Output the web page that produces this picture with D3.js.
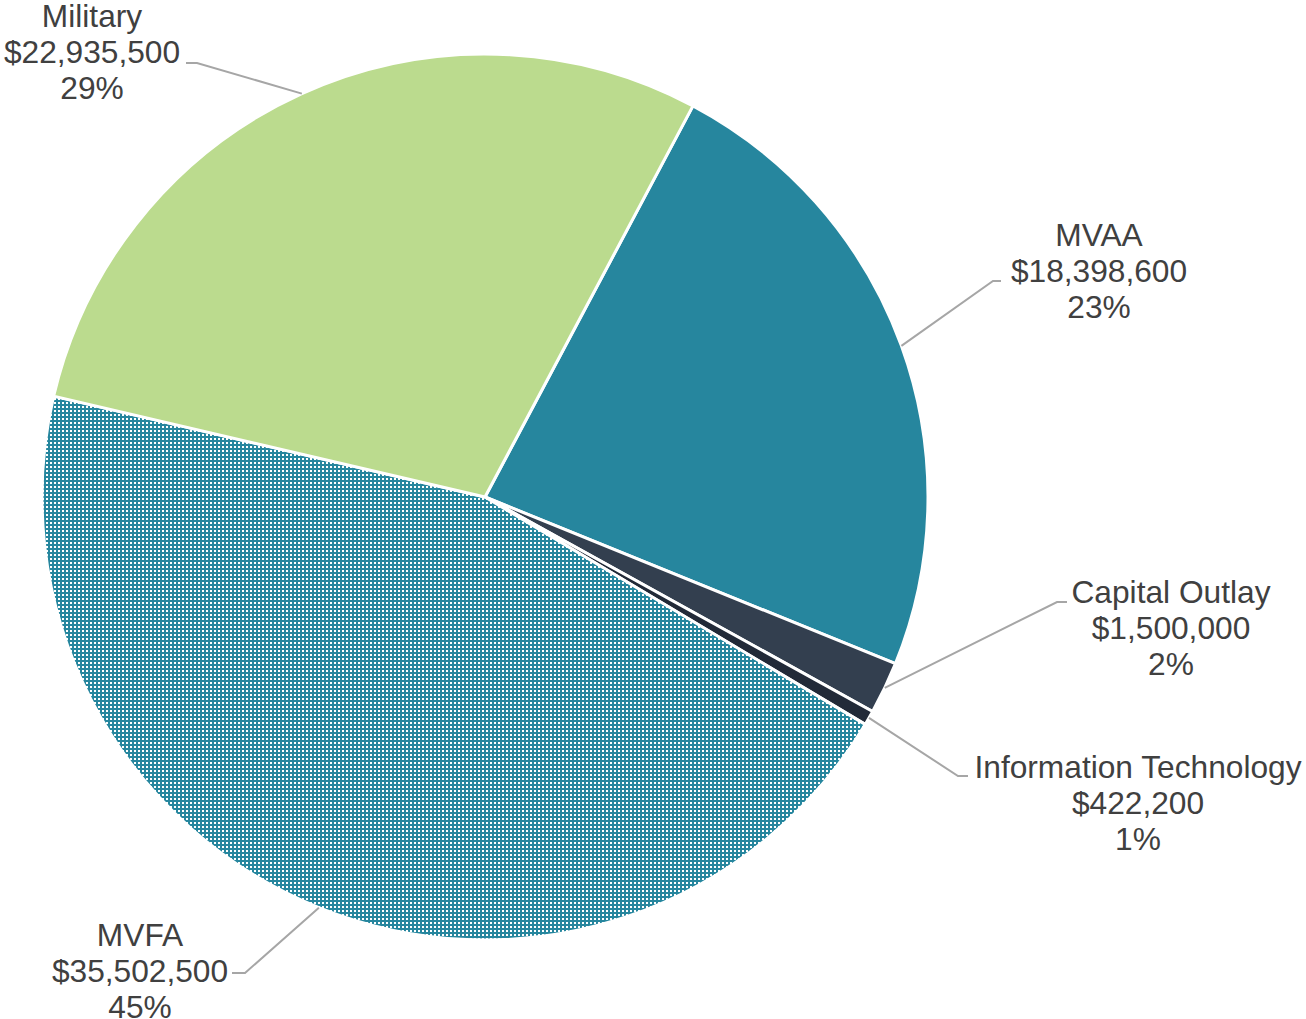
<!DOCTYPE html>
<html>
<head>
<meta charset="utf-8">
<script src="https://cdn.jsdelivr.net/npm/d3@7"></script>
<style>
  body { margin: 0; background: #fff; }
  svg text { font-family: "Liberation Sans", Arial, sans-serif; fill: #404040; }
</style>
</head>
<body>
<div id="chart"></div>
<script>
// budget categories, in the order the slices go round (clockwise from the first cut)
var categories = ["MVAA", "Capital Outlay", "Information Technology", "MVFA", "Military"];
var amounts = [18398600, 1500000, 422200, 35502500, 22935500];
var percentLabels = ["23%", "2%", "1%", "45%", "29%"];

var width = 1306, height = 1019;
var cx = 485, cy = 497, radius = 443;

// colours for each slice ("pattern" = dotted teal fill)
var fills = ["#26869e", "#333f4f", "#222a38", "url(#dots)", "#bbdb8e"];

// where each label block sits: [text centre x, first baseline y, elbow x, elbow y, line end x]
var labelLayout = [
  [1099, 246, 993, 281, 1001],
  [1171, 603, 1057, 602, 1067],
  [1138, 778, 958, 776, 968],
  [140, 946, 245, 973, 232],
  [92, 27, 197, 63, 186]
];

var svg = d3.select("#chart")
  .append("svg")
  .attr("width", width)
  .attr("height", height);

// dotted pattern for MVFA
var pat = svg.append("defs").append("pattern")
  .attr("id", "dots")
  .attr("patternUnits", "userSpaceOnUse")
  .attr("width", 4)
  .attr("height", 4);
pat.append("rect").attr("width", 4).attr("height", 4).attr("fill", "#26869e");
pat.append("rect").attr("x", 1).attr("y", 1).attr("width", 2).attr("height", 2).attr("fill", "#fff");

var start = 28 * Math.PI / 180;
var pie = d3.pie()
  .sort(null)
  .startAngle(start)
  .endAngle(start + 2 * Math.PI)
  .value(function(d) { return d; });

var arcs = pie(amounts);

var arc = d3.arc().innerRadius(0).outerRadius(radius);

var g = svg.append("g").attr("transform", "translate(" + cx + "," + cy + ")");

g.selectAll("path.slice")
  .data(arcs)
  .enter()
  .append("path")
    .attr("class", "slice")
    .attr("d", arc)
    .attr("fill", function(d, i) { return fills[i]; })
    .attr("stroke", "#fff")
    .attr("stroke-width", 3)
    .attr("stroke-linejoin", "round");

// leader lines: from the slice edge at its mid angle to the label
var fmt = d3.format("$,");

arcs.forEach(function(d, i) {
  var mid = (d.startAngle + d.endAngle) / 2;
  var ex = cx + radius * Math.sin(mid),
      ey = cy - radius * Math.cos(mid);
  var L = labelLayout[i];
  svg.append("polyline")
    .attr("points", [[ex, ey], [L[2], L[3]], [L[4], L[3]]].map(function(p) { return p.join(","); }).join(" "))
    .attr("fill", "none")
    .attr("stroke", "#a6a6a6")
    .attr("stroke-width", 2);

  var t = svg.append("text")
    .attr("text-anchor", "middle")
    .style("font-size", "31.7px");
  [categories[i], fmt(amounts[i]), percentLabels[i]].forEach(function(s, k) {
    t.append("tspan")
      .attr("x", L[0])
      .attr("y", L[1] + k * 35.8)
      .text(s);
  });
});
</script>
</body>
</html>
